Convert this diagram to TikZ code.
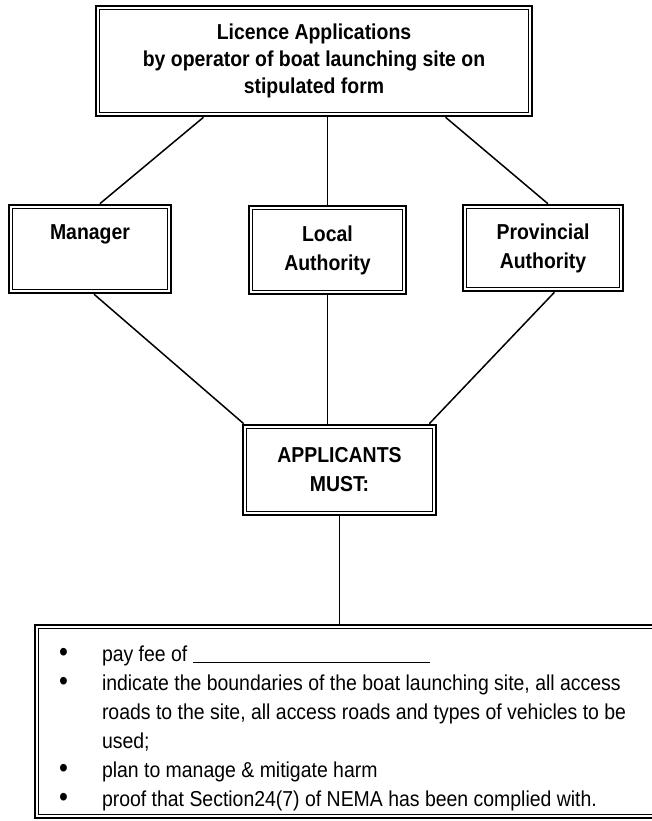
\documentclass[tikz,border=0pt]{standalone}
\usepackage{fontspec}
\setmainfont{Liberation Sans}[FakeStretch=0.9]
\usetikzlibrary{calc}
\newcommand{\itembul}{\makebox[43pt][l]{\scalebox{1.3}{•}}}
\begin{document}
\begin{tikzpicture}[x=1pt,y=-1pt,
  box/.style={draw, line width=2.6pt, inner sep=0pt, align=center,
    font=\fontsize{21.6}{29}\selectfont\bfseries},
  innerline/.style={line width=1.4pt},
  conn/.style={line width=1.5pt}]
\useasboundingbox (0,0) rectangle (651,821);

\node[box, minimum width=436, minimum height=110,
  font=\fontsize{21.6}{27}\selectfont\bfseries] (top) at (314,61)
  {Licence Applications\\by operator of boat launching site on\\stipulated form};
\node[box, minimum width=162, minimum height=88] (man) at (90,249)
  {Manager\\\phantom{Ay}};
\node[box, minimum width=157, minimum height=88] (loc) at (327.5,250)
  {Local\\Authority};
\node[box, minimum width=160, minimum height=86] (prov) at (543,248)
  {Provincial\\Authority};
\node[box, minimum width=193, minimum height=90] (app) at (339.5,470)
  {APPLICANTS\\MUST:};
\node[box, minimum width=663, minimum height=193,
  font=\fontsize{21.6}{29}\selectfont] (list) at (366.5,721.5)
  {\raisebox{60.5pt}[0pt][0pt]{\parbox[t]{615pt}{\raggedright
   \itembul pay fee of \rule[-2pt]{237pt}{1.2pt}\\
   \itembul indicate the boundaries of the boat launching site, all access\\
   \hspace*{43pt}roads to the site, all access roads and types of vehicles to be\\
   \hspace*{43pt}used;\\
   \itembul plan to manage \& mitigate harm\\
   \itembul proof that Section24(7) of NEMA has been complied with.}}};

\foreach \n in {top,man,loc,prov,app,list}
  \draw[innerline] ([shift={(5,5)}]\n.north west) rectangle ([shift={(-5,-5)}]\n.south east);

\draw[conn] ($(top.south west)!0.248!(top.south east)$) -- ($(man.north west)!0.56!(man.north east)$);
\draw[conn] (loc.north) -- (loc.north |- top.south);
\draw[conn] ($(top.south west)!0.80!(top.south east)$) -- ($(prov.north west)!0.53!(prov.north east)$);
\draw[conn] ($(man.south west)!0.525!(man.south east)$) -- ([xshift=2pt]app.north west);
\draw[conn] (loc.south) -- (loc.south |- app.north);
\draw[conn] ($(prov.south west)!0.57!(prov.south east)$) -- ([xshift=-8pt]app.north east);
\draw[conn] (app.south) -- (app.south |- list.north);
\end{tikzpicture}
\end{document}
